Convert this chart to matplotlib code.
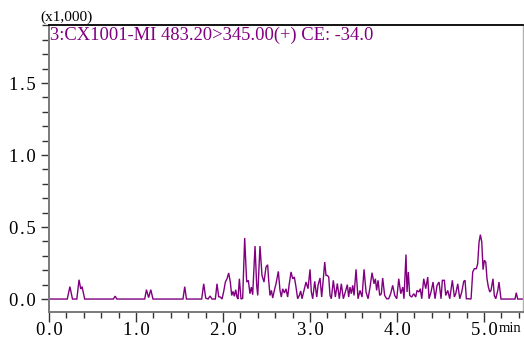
import matplotlib
matplotlib.use("Agg")
import matplotlib.pyplot as plt
from matplotlib.ticker import MultipleLocator, FixedLocator, FixedFormatter

# Chromatogram trace: retention time (min) and intensity (x1,000)
time_min = [
    0.000, 0.210, 0.240, 0.270, 0.320, 0.345, 0.365, 0.380, 0.410,
    0.740, 0.760, 0.780, 1.100, 1.120, 1.145, 1.170, 1.195, 1.540, 1.560, 1.580,
    1.755, 1.778, 1.801, 1.828, 1.851, 1.874, 1.912, 1.931, 1.950, 1.969, 1.989,
    2.008, 2.027, 2.046, 2.065, 2.084, 2.100, 2.115, 2.130, 2.146, 2.161, 2.172,
    2.188, 2.207, 2.226, 2.249, 2.272, 2.291, 2.310, 2.326, 2.341, 2.368, 2.387,
    2.399, 2.425, 2.448, 2.471, 2.494, 2.513, 2.525, 2.540, 2.556, 2.571, 2.590,
    2.609, 2.636, 2.655, 2.670, 2.686, 2.705, 2.724, 2.743, 2.759, 2.782, 2.801,
    2.820, 2.839, 2.858, 2.877, 2.893, 2.908, 2.931, 2.954, 2.977, 3.000, 3.015,
    3.031, 3.054, 3.077, 3.092, 3.115, 3.134, 3.153, 3.169, 3.184, 3.199, 3.215,
    3.230, 3.245, 3.268, 3.291, 3.314, 3.337, 3.360, 3.383, 3.406, 3.429, 3.444,
    3.460, 3.475, 3.491, 3.506, 3.529, 3.552, 3.575, 3.598, 3.621, 3.644, 3.667,
    3.690, 3.713, 3.736, 3.751, 3.766, 3.782, 3.801, 3.820, 3.835, 3.858, 3.881,
    3.904, 3.927, 3.950, 3.974, 3.997, 4.020, 4.043, 4.066, 4.080, 4.103, 4.115,
    4.130, 4.146, 4.169, 4.192, 4.215, 4.230, 4.253, 4.268, 4.284, 4.307, 4.330,
    4.353, 4.368, 4.391, 4.414, 4.437, 4.460, 4.483, 4.506, 4.521, 4.544, 4.560,
    4.583, 4.606, 4.636, 4.659, 4.675, 4.698, 4.721, 4.744, 4.767, 4.782, 4.797,
    4.820, 4.851, 4.870, 4.889, 4.912, 4.927, 4.943, 4.958, 4.974, 4.989, 5.004,
    5.020, 5.034, 5.050, 5.066, 5.080, 5.103, 5.118, 5.135, 5.158, 5.172, 5.195,
    5.356, 5.371, 5.387, 5.450,
]
intensity = [
    0.000, 0.000, 0.086, 0.000, 0.000, 0.134, 0.070, 0.086, 0.000,
    0.000, 0.020, 0.000, 0.000, 0.065, 0.010, 0.065, 0.000, 0.000, 0.086, 0.000,
    0.000, 0.106, 0.007, 0.000, 0.021, 0.000, 0.000, 0.106, 0.016, 0.014, 0.000,
    0.053, 0.118, 0.141, 0.181, 0.118, 0.025, 0.053, 0.019, 0.065, 0.012, 0.000,
    0.141, 0.000, 0.005, 0.424, 0.118, 0.130, 0.037, 0.083, 0.030, 0.368, 0.095,
    0.025, 0.368, 0.164, 0.118, 0.222, 0.238, 0.130, 0.025, 0.060, 0.007, 0.060,
    0.106, 0.192, 0.060, 0.014, 0.071, 0.042, 0.071, 0.014, 0.095, 0.188, 0.141,
    0.153, 0.083, 0.002, 0.025, 0.056, 0.002, 0.060, 0.118, 0.072, 0.206, 0.049,
    0.002, 0.123, 0.014, 0.095, 0.146, 0.014, 0.141, 0.257, 0.164, 0.164, 0.153,
    0.025, 0.002, 0.130, 0.014, 0.108, 0.002, 0.106, 0.002, 0.049, 0.100, 0.014,
    0.083, 0.037, 0.095, 0.025, 0.206, 0.002, 0.060, 0.014, 0.206, 0.049, 0.002,
    0.083, 0.183, 0.106, 0.141, 0.060, 0.130, 0.025, 0.037, 0.146, 0.025, 0.002,
    0.002, 0.037, 0.095, 0.025, 0.002, 0.141, 0.037, 0.083, 0.002, 0.309, 0.049,
    0.188, 0.025, 0.014, 0.037, 0.014, 0.060, 0.049, 0.072, 0.002, 0.141, 0.072,
    0.153, 0.002, 0.049, 0.118, 0.002, 0.095, 0.118, 0.002, 0.130, 0.130, 0.025,
    0.060, 0.002, 0.130, 0.014, 0.037, 0.106, 0.002, 0.049, 0.123, 0.130, 0.002,
    0.002, 0.000, 0.188, 0.211, 0.211, 0.245, 0.396, 0.447, 0.396, 0.204, 0.269,
    0.257, 0.141, 0.083, 0.049, 0.060, 0.141, 0.025, 0.002, 0.060, 0.118, 0.000,
    0.000, 0.044, 0.000, 0.000,
]

x_major = [0.0, 1.0, 2.0, 3.0, 4.0, 5.0]
y_major = [0.0, 0.5, 1.0, 1.5]

trace_title = "3:CX1001-MI 483.20>345.00(+) CE: -34.0"
scale_note = "(x1,000)"
time_unit = "min"

purple = "#800080"
axis_grey = "#7a7a7a"
serif = ["Liberation Serif", "DejaVu Serif"]

plt.rcParams["font.family"] = serif

HAIR = "\u200a"


def spaced(v):
    # widen the decimal point a little, as the instrument software prints it
    return f"{v:.1f}".replace(".", HAIR + "." + HAIR)


W, H = 524, 341
fig = plt.figure(figsize=(W / 100, H / 100), dpi=100)
ax = fig.add_axes([49 / W, (H - 312) / H, 474 / W, 287 / H])

ax.plot(time_min, intensity, color=purple, lw=1.0, solid_joinstyle="miter")

ax.set_xlim(0.0, 5.448)
ax.set_ylim(-0.090, 1.903)

ax.xaxis.set_major_locator(FixedLocator(x_major))
ax.xaxis.set_major_formatter(FixedFormatter([spaced(v) for v in x_major]))
ax.xaxis.set_minor_locator(MultipleLocator(0.2))
ax.yaxis.set_major_locator(FixedLocator(y_major))
ax.yaxis.set_major_formatter(FixedFormatter([spaced(v) for v in y_major]))
ax.yaxis.set_minor_locator(MultipleLocator(0.1))

ax.tick_params(axis="x", which="major", length=7, width=1.0, color="#333333",
               pad=0.5, labelsize=13.5)
ax.tick_params(axis="x", which="minor", length=4, width=1.0, color="#333333")
ax.tick_params(axis="y", which="major", length=6, width=1.0, color="#333333",
               pad=3.5, labelsize=13.5)
ax.tick_params(axis="y", which="minor", length=5, width=1.0, color="#333333")

ax.spines["top"].set_color("black")
ax.spines["top"].set_linewidth(1.3)
ax.spines["left"].set_color(axis_grey)
ax.spines["left"].set_linewidth(1.4)
ax.spines["bottom"].set_color(axis_grey)
ax.spines["bottom"].set_linewidth(1.4)
ax.spines["right"].set_color("#b0b0b0")
ax.spines["right"].set_linewidth(1.0)

ax.text(0.003, 0.9495, trace_title, transform=ax.transAxes, color=purple,
        fontsize=13.3, va="baseline", ha="left")
fig.text(40 / W, (H - 20.5) / H, scale_note, fontsize=11, va="baseline",
         ha="left", color="black")
fig.text(499 / W, (H - 332) / H, time_unit, fontsize=10.5, va="baseline",
         ha="left", color="black")

fig.savefig("out.png", dpi=100)
